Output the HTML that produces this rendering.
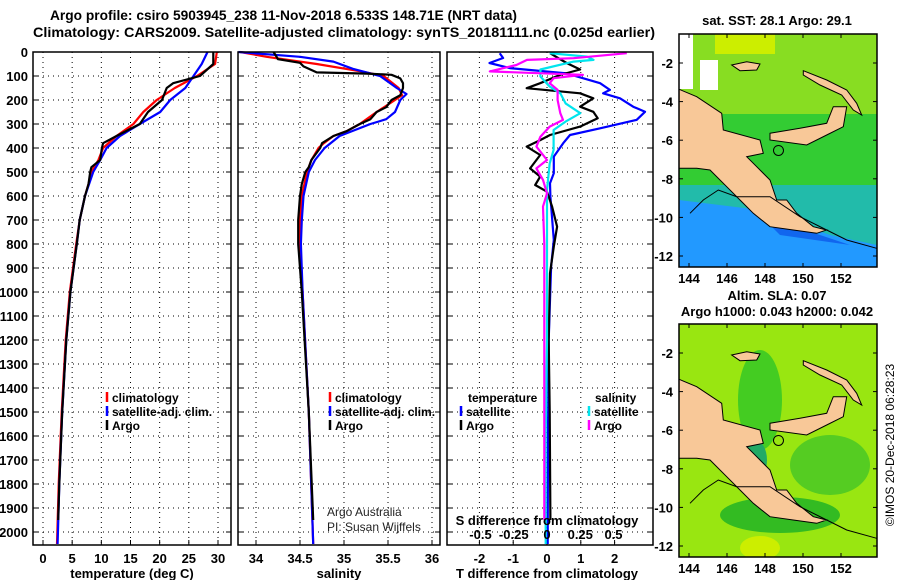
<!DOCTYPE html>
<html><head><meta charset="utf-8">
<style>
html,body{margin:0;padding:0;background:#fff;}
svg{display:block;font-family:"Liberation Sans",Arial,sans-serif;}
.b{font-weight:bold;font-size:13px;}
</style></head>
<body>
<svg id="chart" width="900" height="580" viewBox="0 0 900 580" xmlns="http://www.w3.org/2000/svg">
<text x="50" y="20" class="b" style="font-size:14px" textLength="467" lengthAdjust="spacingAndGlyphs">Argo profile: csiro 5903945_238 11-Nov-2018 6.533S 148.71E (NRT data)</text>
<text x="33" y="37" class="b" style="font-size:14px" textLength="622" lengthAdjust="spacingAndGlyphs">Climatology: CARS2009. Satellite-adjusted climatology: synTS_20181111.nc (0.025d earlier)</text>
<g id="g"></g>
</svg>
<script>
// ---- data ----
const depthTicks=[0,100,200,300,400,500,600,700,800,900,1000,1100,1200,1300,1400,1500,1600,1700,1800,1900,2000];
const tempTicks=[0,5,10,15,20,25,30];
const salTicks=[34,34.5,35,35.5,36];
const salTickLabels=["34","34.5","35","35.5","36"];
const tdTicks=[-2,-1,0,1,2];
const sdTicks=[-0.5,-0.25,0,0.25,0.5];
const sdTickLabels=["-0.5","-0.25","0","0.25","0.5"];

const tClimDepth=[0,50,100,150,200,250,300,350,400,450,500,550,600,700,800,1000,1200,1500,1800,2050];
const tClim=[29.8,29.5,26.4,22.6,19.5,17.2,15.5,12.6,10.3,9.5,8.3,7.8,7.2,6.3,5.7,4.6,3.9,3.2,2.7,2.4];
const tSatDepth=[0,50,100,150,200,250,300,350,400,450,500,600,700,800,1000,1200,1500,1800,2050];
const tSat=[28.2,27.2,25.8,24.4,21.8,20.1,16.6,13.2,10.9,9.8,8.6,7.2,6.3,5.8,4.7,4.0,3.3,2.8,2.5];
const tArgoDepth=[0,50,100,130,150,200,250,300,350,380,400,450,480,500,550,600,700,800,1000,1200,1500,1800,1950];
const tArgo=[29.2,29.2,26.9,22.3,21.2,20.4,18.0,16.6,12.6,10.3,10.1,9.8,8.3,8.1,7.8,7.2,6.3,5.8,4.7,4.0,3.3,2.8,2.6];

const sClimDepth=[0,20,50,80,100,150,180,200,250,300,330,350,380,400,450,500,600,700,800,1000,1500,2050];
const sClim=[33.82,34.12,34.69,35.18,35.45,35.62,35.66,35.58,35.37,35.18,35.03,34.88,34.77,34.71,34.63,34.58,34.52,34.5,34.5,34.53,34.6,34.65];
const sSatDepth=[0,20,40,70,100,150,175,200,250,280,300,350,400,450,500,600,700,800,1000,1500,2050];
const sSat=[33.8,34.5,34.88,35.1,35.41,35.6,35.71,35.64,35.58,35.48,35.3,34.95,34.78,34.67,34.6,34.54,34.52,34.51,34.53,34.6,34.65];
const sArgoDepth=[0,30,45,60,85,90,95,110,130,150,180,200,230,250,280,300,330,350,380,400,450,480,500,550,600,700,800,1000,1500,1950];
const sArgo=[34.2,34.25,34.5,34.54,34.69,35.26,35.54,35.64,35.67,35.67,35.64,35.54,35.48,35.37,35.3,35.18,35.03,34.88,34.75,34.73,34.63,34.6,34.56,34.52,34.5,34.48,34.48,34.52,34.6,34.65];

const dTArgoDepth=[5,46,73,96,130,151,172,193,228,249,276,311,346,367,394,429,485,519,554,582,644,728,811,922,1200,1500,1950];
const dTArgo=[0.09,0.58,0.98,0.38,-0.2,-0.6,0.98,1.37,0.98,1.37,1.5,0.98,0.09,-0.2,-0.6,-0.2,-0.5,-0.2,-0.35,0,0.15,0.3,0.2,0.09,0.05,0.08,0.1];
const dTSatDepth=[5,25,46,67,89,130,158,172,193,228,249,283,318,346,380,436,505,547,603,783,894,1200,1600,2050];
const dTSat=[-1.4,-1.3,-1.7,-1.1,0.58,1.57,1.86,1.66,2.16,2.55,2.9,2.65,1.57,0.68,0.48,0.2,0.2,0.09,0.1,0.2,0.12,0.05,0.03,0.02];
const dSSatDepth=[5,19,33,40,73,102,144,172,214,255,290,325,408,464,575,800,1200,1600,2050];
const dSSat=[0.02,0.3,0.35,0.2,-0.05,-0.05,0.02,0.1,0.14,0.25,0.14,0.05,0.05,0.02,0.0,0.0,0.0,-0.01,-0.01];
const dSArgoDepth=[5,26,33,54,81,95,109,130,158,200,255,283,311,353,394,450,485,533,589,644,800,1200,1600,1950];
const dSArgo=[0.6,0.2,-0.15,-0.23,-0.43,0.27,0.05,0.02,0.08,0.08,0.1,0.12,0.02,-0.05,-0.08,0,-0.08,-0.03,0,-0.03,-0.02,-0.02,-0.02,-0.02];

const latTicks=[-2,-4,-6,-8,-10,-12];
const lonTicks=[144,146,148,150,152];
const argoLon=[148.71], argoLat=[-6.533];

// ---- drawing ----
const NS="http://www.w3.org/2000/svg";
const G=document.getElementById('g');
function mk(tag,attrs,parent,txt){const e=document.createElementNS(NS,tag);for(const k in attrs)e.setAttribute(k,attrs[k]);if(txt!==undefined)e.textContent=txt;(parent||G).appendChild(e);return e;}
const yD=d=>52+d*0.24;
const TOP=52,BOT=545;
const xT=t=>43+t*5.833;
const xS=s=>256+(s-34)*88;
const xdT=v=>547+v*33.8;
const xdS=v=>547+v*133;

function frame(x0,x1,name){
  const r=mk('rect',{x:x0,y:TOP,width:x1-x0,height:BOT-TOP,fill:'none',stroke:'#000','stroke-width':1.5});
  
}
function grid(x0,x1,xs,name){
  depthTicks.forEach(d=>{const l=mk('line',{x1:x0,x2:x1,y1:yD(d),y2:yD(d),stroke:'#000','stroke-dasharray':'1,4','stroke-width':1});
    
    mk('line',{x1:x0,x2:x0+5,y1:yD(d),y2:yD(d),stroke:'#000'});mk('line',{x1:x1-5,x2:x1,y1:yD(d),y2:yD(d),stroke:'#000'});});
  xs.forEach(x=>{const l=mk('line',{x1:x,x2:x,y1:TOP,y2:BOT,stroke:'#000','stroke-dasharray':'1,4','stroke-width':1});
    
    mk('line',{x1:x,x2:x,y1:BOT-5,y2:BOT,stroke:'#000'});});
}
function line(xs,ds,fx,color,name){
  const p=xs.map((v,i)=>fx(v).toFixed(1)+','+yD(ds[i]).toFixed(1)).join(' ');
  const e=mk('polyline',{points:p,fill:'none',stroke:color,'stroke-width':2.2,'stroke-linejoin':'round'});
  
}
function txt(x,y,s,name,extra){const e=mk('text',Object.assign({x:x,y:y,class:'b'},extra||{}),G,s);return e;}

depthTicks.forEach(d=>txt(28,yD(d)+5,String(d),'depth-tick-label',{'text-anchor':'end'}));

// panel 1
grid(33,231,tempTicks.map(xT),'temperature');
line(tClim,tClimDepth,xT,'#ff0000','temperature-climatology-line');
line(tSat,tSatDepth,xT,'#0000ff','temperature-satellite-line');
line(tArgo,tArgoDepth,xT,'#000000','temperature-argo-line');
frame(33,231,'temperature-panel');
tempTicks.forEach(t=>txt(xT(t),563,String(t),'temperature-tick-label',{'text-anchor':'middle'}));
txt(132,578,'temperature (deg C)','temperature-axis-title',{'text-anchor':'middle'});

// panel 2
grid(238,440,salTicks.map(xS),'salinity');
line(sClim,sClimDepth,xS,'#ff0000','salinity-climatology-line');
line(sSat,sSatDepth,xS,'#0000ff','salinity-satellite-line');
line(sArgo,sArgoDepth,xS,'#000000','salinity-argo-line');
frame(238,440,'salinity-panel');
salTicks.forEach((s,i)=>txt(xS(s),563,salTickLabels[i],'salinity-tick-label',{'text-anchor':'middle'}));
txt(339,578,'salinity','salinity-axis-title',{'text-anchor':'middle'});
txt(327,516,'Argo Australia','credit-line-1',{class:'',style:'font-size:12px;fill:#222'});
txt(327,531,'PI: Susan Wijffels','credit-line-2',{class:'',style:'font-size:12px;fill:#222'});

// panel 3
grid(447,653,tdTicks.map(xdT),'difference');
line(dTSat,dTSatDepth,xdT,'#0000ff','t-diff-satellite-line');
line(dTArgo,dTArgoDepth,xdT,'#000000','t-diff-argo-line');
line(dSSat,dSSatDepth,xdS,'#00e5ee','s-diff-satellite-line');
line(dSArgo,dSArgoDepth,xdS,'#ff00ff','s-diff-argo-line');
frame(447,653,'difference-panel');
tdTicks.forEach(t=>txt(xdT(t),563,String(t),'t-diff-tick-label',{'text-anchor':'middle'}));
sdTicks.forEach((s,i)=>txt(xdS(s),539,sdTickLabels[i],'s-diff-tick-label',{'text-anchor':'middle'}));
txt(547,525,'S difference from climatology','s-diff-axis-title',{'text-anchor':'middle'});
txt(547,578,'T difference from climatology','t-diff-axis-title',{'text-anchor':'middle'});

function leg(x,y,color,label,name){
  const m=mk('line',{x1:x,x2:x,y1:y-10,y2:y,stroke:color,'stroke-width':2.5});
  txt(x+5,y,label,name,{style:'font-size:12px'});
}
leg(107,402,'#ff0000','climatology','legend-temp-climatology');
leg(107,416,'#0000ff','satellite-adj. clim.','legend-temp-satellite');
leg(107,430,'#000000','Argo','legend-temp-argo');
leg(330,402,'#ff0000','climatology','legend-sal-climatology');
leg(330,416,'#0000ff','satellite-adj. clim.','legend-sal-satellite');
leg(330,430,'#000000','Argo','legend-sal-argo');
txt(468,402,'temperature','legend-temperature-heading',{style:'font-size:12px'});
txt(595,402,'salinity','legend-salinity-heading',{style:'font-size:12px'});
leg(461,416,'#0000ff','satellite','legend-tdiff-satellite');
leg(461,430,'#000000','Argo','legend-tdiff-argo');
leg(589,416,'#00e5ee','satellite','legend-sdiff-satellite');
leg(589,430,'#ff00ff','Argo','legend-sdiff-argo');

// maps
const MX0=679,MX1=877;
const mxf=lon=>689+(lon-144)*19;
function drawMap(oy,kind,name){
  const yl=lat=>oy+63+(-2-lat)*19.3;
  const g=mk('g',{});
  const id='clip'+oy;
  const cp=mk('clipPath',{id:id},g);mk('rect',{x:MX0,y:oy+34,width:MX1-MX0,height:233},cp);
  const inner=mk('g',{'clip-path':'url(#'+id+')'},g);
  if(kind==='sst'){
    mk('rect',{x:MX0,y:oy+34,width:MX1-MX0,height:233,fill:'#33cc33'},inner);
    mk('rect',{x:MX0,y:oy+34,width:MX1-MX0,height:80,fill:'#88dd22'},inner);
    mk('rect',{x:715,y:oy+34,width:60,height:20,fill:'#ccee00'},inner);
    mk('rect',{x:MX0,y:oy+185,width:MX1-MX0,height:82,fill:'#22bbaa'},inner);
    mk('polygon',{points:`${MX0},${oy+200} 760,${oy+210} 830,${oy+235} ${MX1},${oy+245} ${MX1},${oy+267} ${MX0},${oy+267}`,fill:'#2299ff'},inner);
    mk('polygon',{points:`760,${oy+215} 820,${oy+235} 850,${oy+245} 780,${oy+235}`,fill:'#1166ee'},inner);
    mk('rect',{x:MX0,y:oy+34,width:14,height:55,fill:'#fff'},inner);
    mk('rect',{x:700,y:oy+60,width:18,height:30,fill:'#fff'},inner);
  } else {
    mk('rect',{x:MX0,y:oy+34,width:MX1-MX0,height:233,fill:'#99e611'},inner);
    mk('ellipse',{cx:760,cy:oy+110,rx:22,ry:50,fill:'#44cc22'},inner);
    mk('ellipse',{cx:830,cy:oy+175,rx:40,ry:30,fill:'#55cc22'},inner);
    mk('ellipse',{cx:780,cy:oy+225,rx:60,ry:18,fill:'#33bb22'},inner);
    mk('ellipse',{cx:755,cy:oy+170,rx:12,ry:20,fill:'#22aa66'},inner);
    mk('ellipse',{cx:760,cy:oy+258,rx:20,ry:12,fill:'#ccee00'},inner);
  }
  const L=(pts)=>pts.map(p=>(660+p[0]/3).toFixed(1)+','+(oy+p[1]/3).toFixed(1)).join(' ');
  const land={fill:'#f8c898',stroke:'#000','stroke-width':1};
  mk('polygon',Object.assign({points:L([[50,265],[110,290],[185,340],[190,390],[300,420],[310,460],[260,470],[290,500],[330,540],[350,600],[380,600],[410,640],[460,680],[500,690],[470,700],[400,690],[330,680],[280,640],[240,600],[200,560],[150,510],[110,505],[50,505]])},land),inner);
  mk('polygon',Object.assign({points:L([[330,400],[420,385],[500,370],[520,320],[560,320],[550,380],[500,405],[440,435],[330,420]])},land),inner);
  mk('polygon',Object.assign({points:L([[430,212],[500,240],[560,270],[590,310],[605,345],[580,330],[545,285],[480,255],[430,225]])},land),inner);
  mk('polygon',Object.assign({points:L([[215,195],[260,185],[300,192],[290,210],[240,212]])},land),inner);
  mk('polyline',{points:L([[90,640],[130,600],[175,570],[230,590],[330,590],[420,650],[500,690],[560,720],[650,745]]),fill:'none',stroke:'#000','stroke-width':1},inner);
  const c=mk('circle',{cx:mxf(argoLon[0]),cy:yl(argoLat[0]),r:5,fill:'none',stroke:'#000','stroke-width':1},g);
  
  mk('rect',{x:MX0,y:oy+34,width:MX1-MX0,height:233,fill:'none',stroke:'#000','stroke-width':1.5},g);
  latTicks.forEach(l=>{txt(673,yl(l)+5,String(l),'map-lat-label',{'text-anchor':'end'});
    mk('line',{x1:MX0,x2:MX0+4,y1:yl(l),y2:yl(l),stroke:'#000'},g);mk('line',{x1:MX1-4,x2:MX1,y1:yl(l),y2:yl(l),stroke:'#000'},g);});
  lonTicks.forEach(l=>{txt(mxf(l),oy+283,String(l),'map-lon-label',{'text-anchor':'middle'});
    mk('line',{x1:mxf(l),x2:mxf(l),y1:oy+34,y2:oy+38,stroke:'#000'},g);mk('line',{x1:mxf(l),x2:mxf(l),y1:oy+263,y2:oy+267,stroke:'#000'},g);});
}
drawMap(0,'sst','sst-map');
drawMap(290,'sla','sla-map');
txt(777,25,'sat. SST: 28.1 Argo: 29.1','sst-map-title',{'text-anchor':'middle'});
txt(777,300,'Altim. SLA: 0.07','sla-map-title',{'text-anchor':'middle'});
txt(777,316,'Argo h1000: 0.043 h2000: 0.042','argo-height-title',{'text-anchor':'middle'});
txt(894,445,'©IMOS 20-Dec-2018 06:28:23','imos-credit',{'text-anchor':'middle',class:'',style:'font-size:12px',transform:'rotate(-90 894 445)'});
</script>
</body></html>
